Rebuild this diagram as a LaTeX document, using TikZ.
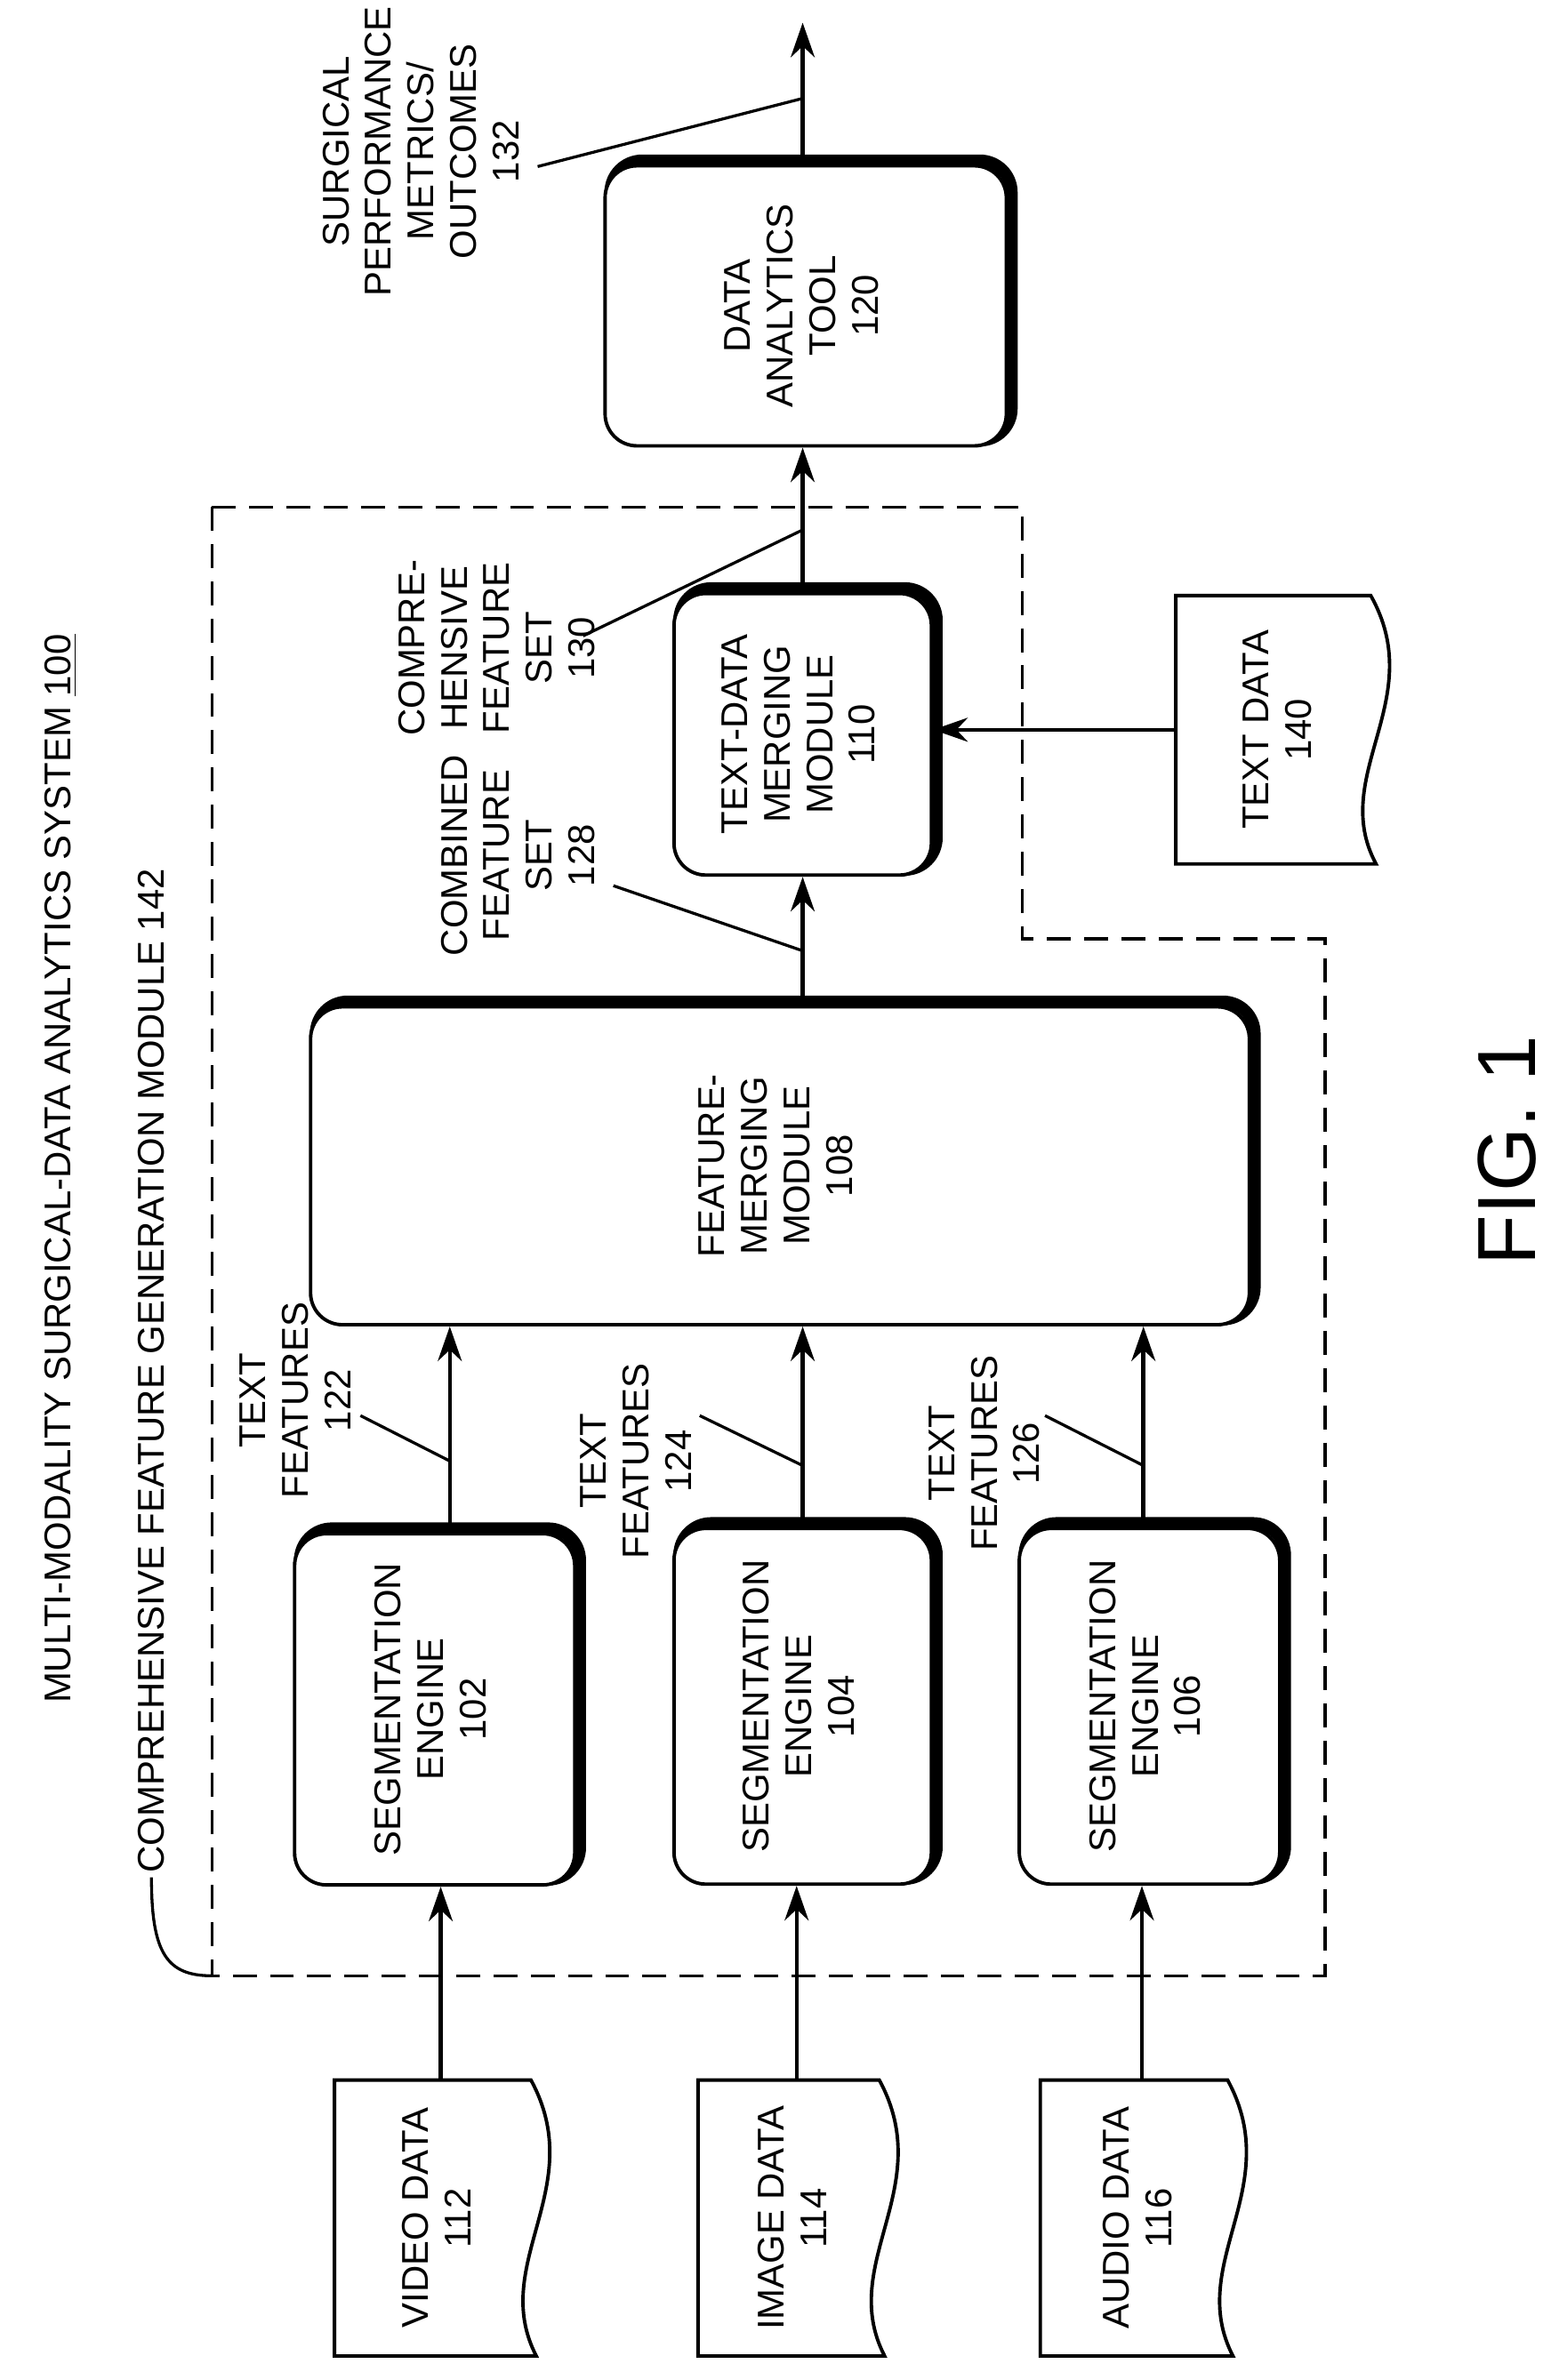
\documentclass[tikz,border=0pt]{standalone}
\usepackage{fontspec}
\setmainfont{Liberation Sans}
\usetikzlibrary{arrows.meta,positioning}
\newcommand{\vtext}[1]{\rotatebox{90}{\begin{tabular}{@{}c@{}}#1\end{tabular}}}
\begin{document}
\begin{tikzpicture}
[x=0.02cm, y=-0.02cm, line width=1.3pt, >={Stealth[length=13pt,width=9pt]},
font=\fontsize{14}{16}\selectfont,
box/.style={draw, rounded corners=12pt, fill=white, inner sep=0pt,
  preaction={draw, line width=4.5pt, transform canvas={shift={(2pt,2pt)}}}},
doc/.style={inner sep=0pt},
lbl/.style={align=center, rotate=90, inner sep=1pt},
flow/.style={->, line width=1.5pt},
leader/.style={line width=1.1pt}]
\useasboundingbox (0,0) rectangle (1024,1572);

% titles
\node[lbl] (title) at (40,772) {MULTI-MODALITY SURGICAL-DATA ANALYTICS SYSTEM \underline{100}};
\node[lbl, anchor=west] (cfg) at (100,1240) {COMPREHENSIVE FEATURE GENERATION MODULE 142};
\draw[leader] (cfg.west) .. controls (100,1290) and (110,1305) .. (140,1305);

% module boundary
\draw[dashed, line width=1.2pt, dash pattern=on 9pt off 5pt]
  (140,335) -- (675,335) -- (675,620) -- (875,620) -- (875,1305) -- (140,1305) -- cycle;

% processing blocks
\node[box, minimum width=3.7cm, minimum height=4.64cm] (eng102) at (287,1129) {\vtext{SEGMENTATION\\ENGINE\\102}};
\node[box, minimum width=3.4cm, minimum height=4.7cm] (eng104) at (530,1127) {\vtext{SEGMENTATION\\ENGINE\\104}};
\node[box, minimum width=3.44cm, minimum height=4.7cm] (eng106) at (759,1127) {\vtext{SEGMENTATION\\ENGINE\\106}};
\node[box, minimum width=12.4cm, minimum height=4.2cm] (fmerge) at (515,770) {\vtext{FEATURE-\\MERGING\\MODULE\\108}};
\node[box, minimum width=3.4cm, minimum height=3.72cm] (tmerge) at (530,485) {\vtext{TEXT-DATA\\MERGING\\MODULE\\110}};
\node[box, minimum width=5.3cm, minimum height=3.7cm] (tool) at (532,202) {\vtext{DATA\\ANALYTICS\\TOOL\\120}};

% data sources
\node[doc, minimum width=2.76cm, minimum height=3.6cm] (video) at (291,1465) {\vtext{VIDEO DATA\\112}};
\node[doc, minimum width=2.56cm, minimum height=3.6cm] (image) at (526,1465) {\vtext{IMAGE DATA\\114}};
\node[doc, minimum width=2.64cm, minimum height=3.6cm] (audio) at (754,1465) {\vtext{AUDIO DATA\\116}};
\node[doc, minimum width=2.74cm, minimum height=3.5cm] (tdata) at (846,482) {\vtext{TEXT DATA\\140}};
\foreach \d in {video,image,audio,tdata}
  \draw (\d.south west) -- (\d.north west) -- ([xshift=-6pt]\d.north east)
    .. controls ([xshift=16pt,yshift=0.4cm]\d.east) and ([xshift=-22pt,yshift=-0.6cm]\d.east) .. ([xshift=-4pt]\d.south east) -- cycle;

% data flow
\draw[flow] (video.north) -- (video.north |- eng102.south);
\draw[flow] (image.north) -- (image.north |- eng104.south);
\draw[flow] (audio.north) -- (audio.north |- eng106.south);
\draw[flow] ([xshift=0.2cm]eng102.north) -- ([xshift=0.2cm]eng102.north |- fmerge.south);
\draw[flow] (eng104.north) -- (eng104.north |- fmerge.south);
\draw[flow] ([xshift=-0.08cm]eng106.north) -- ([xshift=-0.08cm]eng106.north |- fmerge.south);
\draw[flow] (tmerge.south |- fmerge.north) -- (tmerge.south);
\draw[flow] (tdata.west) -- (tdata.west -| tmerge.east);
\draw[flow] (tmerge.north) -- (tmerge.north |- tool.south);
\coordinate (out) at (530,15);
\draw[flow] (tmerge.north |- tool.north) -- (out);

% labels and leaders
\node[lbl] (f122) at (195,925) {TEXT\\FEATURES\\122};
\node[lbl] (f124) at (420,965) {TEXT\\FEATURES\\124};
\node[lbl] (f126) at (650,960) {TEXT\\FEATURES\\126};
\node[lbl] (s128) at (342,565) {COMBINED\\FEATURE\\SET\\128};
\node[lbl] (s130) at (328,428) {COMPRE-\\HENSIVE\\FEATURE\\SET\\130};
\node[lbl] (m132) at (278,100) {SURGICAL\\PERFORMANCE\\METRICS/\\OUTCOMES\\132};
\coordinate (a122) at (297,965);
\coordinate (a124) at (530,968);
\coordinate (a126) at (755,968);
\coordinate (a128) at (530,628);
\coordinate (a130) at (530,350);
\coordinate (a132) at (530,65);
\draw[leader] (238,935) -- (a122);
\draw[leader] (462,935) -- (a124);
\draw[leader] (690,935) -- (a126);
\draw[leader] (405,585) -- (a128);
\draw[leader] (385,420) -- (a130);
\draw[leader] (355,110) -- (a132);

\node[lbl, font=\fontsize{31}{34}\selectfont] (fig) at (995,760) {FIG. 1};
\end{tikzpicture}
\end{document}
